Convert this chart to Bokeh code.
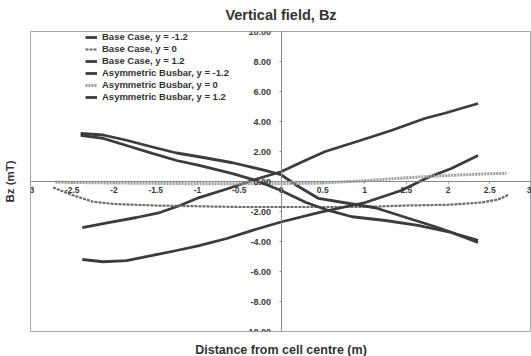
from bokeh.plotting import figure
from bokeh.models import FixedTicker, NumeralTickFormatter, Title
from bokeh.embed import file_html
from bokeh.resources import INLINE

# ---- data ----
x_ticks = [-3, -2.5, -2, -1.5, -1, -0.5, 0, 0.5, 1, 1.5, 2, 2.5, 3]
x_tick_labels = ["-3", "-2.5", "-2", "-1.5", "-1", "-0.5", "0", "0.5", "1", "1.5", "2", "2.5", "3"]
y_ticks = [-10, -8, -6, -4, -2, 0, 2, 4, 6, 8, 10]

base_m12_x = [-2.38, -2.05, -1.73, -1.45, -1.21, -0.98, -0.65, -0.3, 0.0, 0.25, 0.53, 0.93, 1.32, 1.72, 1.96, 2.36]
base_m12_y = [-3.07, -2.73, -2.4, -2.07, -1.6, -1.07, -0.5, 0.15, 0.65, 1.3, 2.0, 2.7, 3.4, 4.2, 4.55, 5.2]

base_0_x = [-2.73, -2.5, -2.25, -2.0, -1.5, -1.0, -0.5, 0.0, 0.5, 1.0, 1.5, 2.0, 2.4, 2.6, 2.72]
base_0_y = [-0.4, -0.9, -1.35, -1.5, -1.6, -1.65, -1.7, -1.7, -1.7, -1.7, -1.6, -1.55, -1.4, -1.2, -0.9]

base_p12_x = [-2.4, -2.13, -1.85, -1.54, -1.25, -0.98, -0.58, -0.18, 0.0, 0.2, 0.45, 0.8, 1.13, 1.44, 1.84, 2.1, 2.36]
base_p12_y = [3.2, 3.1, 2.75, 2.3, 1.9, 1.65, 1.25, 0.73, 0.45, -0.3, -1.13, -1.45, -1.75, -2.3, -3.0, -3.5, -3.93]

asym_m12_x = [-2.38, -2.13, -1.85, -1.54, -1.25, -0.98, -0.65, -0.35, 0.0, 0.45, 1.01, 1.44, 1.76, 2.04, 2.36]
asym_m12_y = [-5.2, -5.35, -5.27, -4.93, -4.6, -4.27, -3.8, -3.27, -2.7, -2.07, -1.4, -0.6, 0.27, 0.87, 1.73]

asym_0_x = [-2.7, -2.0, -1.0, 0.0, 0.5, 1.0, 1.5, 2.0, 2.4, 2.7]
asym_0_y = [-0.05, -0.1, -0.15, -0.15, -0.1, 0.05, 0.25, 0.4, 0.5, 0.55]

asym_p12_x = [-2.4, -2.13, -1.85, -1.54, -1.25, -0.98, -0.58, -0.3, 0.0, 0.3, 0.57, 0.85, 1.25, 1.64, 2.04, 2.36]
asym_p12_y = [3.07, 2.87, 2.4, 1.87, 1.4, 1.07, 0.53, 0.07, -0.6, -1.4, -1.93, -2.35, -2.6, -2.93, -3.4, -4.07]

FONT = "Liberation Sans"
TXT = "#333333"

p = figure(width=531, height=356, x_range=(-3, 3), y_range=(-10, 10),
           output_backend="svg", toolbar_location=None,
           min_border_left=30, min_border_right=0, min_border_top=31, min_border_bottom=25)


def spacer(gap):
    return Title(text=" ", text_font_size="1px", standoff=gap)


# above: spacer next to the frame, then the chart title
p.add_layout(spacer(2.5), "above")
p.add_layout(Title(text="Vertical field, Bz", align="center", text_font=FONT,
                   text_font_size="14.5px", text_font_style="bold", text_color=TXT,
                   standoff=6), "above")
# below: spacer, then x-axis title
p.add_layout(spacer(6), "below")
p.add_layout(Title(text="Distance from cell centre (m)", align="center", text_font=FONT,
                   text_font_size="12.5px", text_font_style="bold", text_color=TXT,
                   standoff=0), "below")
# left: spacer, then y-axis title
p.add_layout(spacer(11), "left")
p.add_layout(Title(text="Bz (mT)", align="center", text_font=FONT,
                   text_font_size="11.5px", text_font_style="bold", text_color=TXT,
                   standoff=2), "left")

p.xgrid.visible = False
p.ygrid.visible = False
p.outline_line_color = "#a8a8a8"
p.background_fill_color = "white"
p.border_fill_color = "white"

for ax in (p.xaxis[0], p.yaxis[0]):
    ax.fixed_location = 0
    ax.axis_line_color = "#8a8a8a"
    ax.axis_line_width = 1
    ax.major_tick_in = 0
    ax.major_tick_out = 2
    ax.major_tick_line_color = "#8a8a8a"
    ax.minor_tick_line_color = None
    ax.major_label_text_font = FONT
    ax.major_label_text_font_style = "bold"
    ax.major_label_text_color = "#3a3a3a"

p.xaxis.ticker = FixedTicker(ticks=x_ticks)
p.xaxis.major_label_overrides = {float(t): l for t, l in zip(x_ticks, x_tick_labels)}
p.xaxis.major_label_standoff = 3
p.xaxis.major_label_text_font_size = "8.5px"
p.yaxis.ticker = FixedTicker(ticks=y_ticks)
p.yaxis.formatter = NumeralTickFormatter(format="0.00")
p.yaxis.major_label_standoff = 8
p.yaxis.major_label_text_font_size = "9px"

dark = "#3c3c3c"
p.line(base_m12_x, base_m12_y, line_color=dark, line_width=2.8, legend_label="Base Case, y = -1.2")
p.line(base_0_x, base_0_y, line_color="#6a6a6a", line_width=2.2, line_dash="3 1", legend_label="Base Case, y = 0")
p.line(base_p12_x, base_p12_y, line_color=dark, line_width=2.8, legend_label="Base Case, y = 1.2")
p.line(asym_m12_x, asym_m12_y, line_color=dark, line_width=2.8, legend_label="Asymmetric Busbar, y = -1.2")
p.line(asym_0_x, asym_0_y, line_color="#9c9c9c", line_width=3.0, line_dash="2 1", legend_label="Asymmetric Busbar, y = 0")
p.line(asym_p12_x, asym_p12_y, line_color=dark, line_width=2.8, legend_label="Asymmetric Busbar, y = 1.2")

lg = p.legend[0]
lg.location = (55, 229)
lg.padding = 0
lg.margin = 0
lg.spacing = 1
lg.glyph_width = 12
lg.glyph_height = 10
lg.label_height = 10
lg.label_standoff = 5
lg.label_text_font = FONT
lg.label_text_font_size = "9.5px"
lg.label_text_font_style = "bold"
lg.label_text_color = TXT
lg.label_text_baseline = "middle"
lg.border_line_color = None
lg.background_fill_alpha = 0

open("out.html", "w").write(file_html(p, INLINE))
